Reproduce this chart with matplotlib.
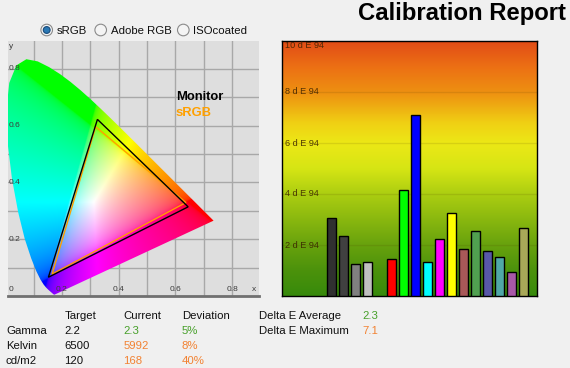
"""
Calibration report: CIE 1931 gamut plot, delta E bar chart and summary table.
Output: out.png (570x368 px)
"""
import numpy as np
import matplotlib
matplotlib.use("Agg")
import matplotlib.pyplot as plt
from matplotlib.patches import Polygon, Circle
from matplotlib.colors import LinearSegmentedColormap
import matplotlib.transforms as mtransforms

# CIE 1931 2 deg spectral locus, 380-700 nm
locus_x = [0.1741, 0.1738, 0.1733, 0.1726, 0.1714, 0.1703, 0.1689, 0.1669, 0.1644, 0.1611,
           0.1566, 0.1510, 0.1440, 0.1355, 0.1241, 0.1096, 0.0913, 0.0687, 0.0454, 0.0235,
           0.0082, 0.0039, 0.0139, 0.0389, 0.0743, 0.1142, 0.1547, 0.1929, 0.2296, 0.2658,
           0.3016, 0.3373, 0.3731, 0.4087, 0.4441, 0.4788, 0.5125, 0.5448, 0.5752, 0.6029,
           0.6270, 0.6482, 0.6658, 0.6801, 0.6915, 0.7006, 0.7079, 0.7140, 0.7190, 0.7230,
           0.7260, 0.7300, 0.7334, 0.7347]
locus_y = [0.0050, 0.0049, 0.0048, 0.0048, 0.0051, 0.0058, 0.0069, 0.0086, 0.0109, 0.0138,
           0.0177, 0.0227, 0.0297, 0.0399, 0.0578, 0.0868, 0.1327, 0.2007, 0.2950, 0.4127,
           0.5384, 0.6548, 0.7502, 0.8120, 0.8338, 0.8262, 0.8059, 0.7816, 0.7543, 0.7243,
           0.6923, 0.6589, 0.6245, 0.5896, 0.5547, 0.5202, 0.4866, 0.4544, 0.4242, 0.3965,
           0.3725, 0.3514, 0.3340, 0.3197, 0.3083, 0.2993, 0.2920, 0.2859, 0.2809, 0.2770,
           0.2740, 0.2700, 0.2666, 0.2653]

# gamut triangles (R, G, B primaries) as drawn
monitor_x = [0.645, 0.325, 0.152]
monitor_y = [0.314, 0.622, 0.066]
srgb_x = [0.637, 0.319, 0.165]
srgb_y = [0.329, 0.596, 0.077]

chroma_ticks = [0.2, 0.4, 0.6, 0.8]

# delta E per patch
patch_names = ["Gray 80", "Gray 75", "Gray 50", "Gray 25",
               "Red", "Green", "Blue", "Cyan", "Magenta", "Yellow",
               "Dark red", "Dark green", "Dark blue", "Dark cyan", "Dark magenta", "Dark yellow"]
delta_e = [3.05, 2.34, 1.24, 1.32, 1.44, 4.15, 7.1, 1.32, 2.23, 3.25,
           1.83, 2.54, 1.75, 1.52, 0.93, 2.66]
de_ticks = [2, 4, 6, 8, 10]

# summary table
table_cols = ["Target", "Current", "Deviation"]
table_rows = ["Gamma", "Kelvin", "cd/m2"]
target_vals = ["2.2", "6500", "120"]
current_vals = ["2.3", "5992", "168"]
deviation_vals = ["5%", "8%", "40%"]
row_ok = [True, False, False]
de_labels = ["Delta E Average", "Delta E Maximum"]
de_vals = ["2.3", "7.1"]
de_ok = [True, False]

radio_labels = ["sRGB", "Adobe RGB", "ISOcoated"]

PATCH_COLORS = ["#303030", "#404040", "#808080", "#c0c0c0",
                "#ff0000", "#00ff00", "#0000ff", "#00ffff", "#ff00ff", "#ffff00",
                "#a85858", "#50a050", "#5858a8", "#50a8a8", "#a858a8", "#a8a858"]
GREEN = "#47a02a"
ORANGE = "#f28232"
W, H = 570, 368


def px_rect(x0, y0, x1, y1):
    return [x0 / W, 1 - y1 / H, (x1 - x0) / W, (y1 - y0) / H]


def main() -> None:
    plt.rcParams["font.family"] = ["Liberation Sans", "DejaVu Sans"]
    fig = plt.figure(figsize=(W / 100, H / 100), dpi=100, facecolor="#f0f0f0")

    # --- CIE xy chromaticity diagram ---
    ax = fig.add_axes(px_rect(8, 41, 259, 296))
    xlim, ylim = (0.0095, 0.895), (0.0, 0.898)
    ax.set_xlim(*xlim)
    ax.set_ylim(*ylim)
    ax.set_facecolor("#dedede")

    gx = np.linspace(xlim[0], xlim[1], 500)
    gy = np.linspace(0.002, ylim[1], 500)
    X, Y = np.meshgrid(gx, gy)
    cX, cZ = X / Y, (1 - X - Y) / Y
    rgb = np.stack([
        3.2406 * cX - 1.5372 - 0.4986 * cZ,
        -0.9689 * cX + 1.8758 + 0.0415 * cZ,
        0.0557 * cX - 0.2040 + 1.0570 * cZ,
    ], axis=-1)
    rgb = np.clip(rgb, 0, None)
    rgb /= rgb.max(axis=-1, keepdims=True)
    rgb = np.clip(rgb ** (1 / 3.0), 0, 1)
    im = ax.imshow(rgb, extent=[xlim[0], xlim[1], gy[0], gy[-1]], origin="lower",
                   aspect="auto", zorder=1, interpolation="bilinear")
    locus = Polygon(np.column_stack([locus_x, locus_y]), closed=True,
                    facecolor="none", edgecolor="none")
    ax.add_patch(locus)
    im.set_clip_path(locus)

    ax.add_patch(Polygon(np.column_stack([srgb_x, srgb_y]), closed=True, fill=False,
                         edgecolor="#ffa000", lw=1, zorder=3))
    ax.add_patch(Polygon(np.column_stack([monitor_x, monitor_y]), closed=True, fill=False,
                         edgecolor="black", lw=1, zorder=4))

    ax.set_xticks(np.arange(0.1, 0.85, 0.1))
    ax.set_yticks(np.arange(0.1, 0.85, 0.1))
    ax.grid(True, color="#a8a8a8", lw=1, zorder=0)
    ax.set_axisbelow(True)
    ax.tick_params(length=0, labelbottom=False, labelleft=False)
    for s in ["top", "left", "right"]:
        ax.spines[s].set_visible(False)
    ax.spines["bottom"].set_color("#707070")
    ax.spines["bottom"].set_linewidth(2)

    tick_kw = dict(fontsize=6, color="#3c3c3c", zorder=5)
    tx = mtransforms.blended_transform_factory(ax.transData, ax.transAxes)
    ty = mtransforms.blended_transform_factory(ax.transAxes, ax.transData)
    for t in chroma_ticks:
        ax.text(t, 0.025, f"{t:.1f}", transform=tx, ha="center", va="center", **tick_kw)
        ax.text(0.003, t, f"{t:.1f}", transform=ty, ha="left", va="center", **tick_kw)
    ax.text(0.003, 0.025, "0", transform=ax.transAxes, ha="left", va="center", **tick_kw)
    ax.text(0.99, 0.025, "x", transform=ax.transAxes, ha="right", va="center", **tick_kw)
    ax.text(0.003, 0.98, "y", transform=ax.transAxes, ha="left", va="center", **tick_kw)

    ax.text(0.601, 0.70, "Monitor", fontsize=9.4, fontweight="bold", color="black",
            va="center", zorder=5)
    ax.text(0.601, 0.643, "sRGB", fontsize=9.4, fontweight="bold", color="#ffa000",
            va="center", zorder=5)

    # --- delta E bar chart ---
    bx = fig.add_axes(px_rect(282, 41, 537, 296))
    bxlim = (-4.14, 17.11)
    stops = [(0, "#378a0b"), (1, "#4c920c"), (2, "#68a20d"), (3, "#8ab80f"),
             (4, "#acce11"), (5, "#d6e514"), (6, "#ece816"), (6.8, "#f0d014"),
             (7.5, "#eeaa12"), (8, "#ee9011"), (9, "#ec7014"), (10, "#e24c16")]
    cmap = LinearSegmentedColormap.from_list("de94", [(v / 10, c) for v, c in stops])
    bx.imshow(np.linspace(0, 1, 256).reshape(-1, 1), cmap=cmap, origin="lower",
              extent=[bxlim[0], bxlim[1], 0, 10], aspect="auto", zorder=0)
    xs = [i if i < 4 else i + 1 for i in range(len(delta_e))]
    bx.bar(xs, delta_e, width=0.78, color=PATCH_COLORS, edgecolor="black", lw=1, zorder=3)
    bx.set_xlim(*bxlim)
    bx.set_ylim(0, 10)
    bx.set_yticks(de_ticks[:-1])
    bx.yaxis.grid(True, color="#4a3a00", alpha=0.13, lw=1)
    bx.tick_params(length=0, labelbottom=False, labelleft=False)
    for s in bx.spines.values():
        s.set_linewidth(1)
        s.set_color("black")
    tb = mtransforms.blended_transform_factory(bx.transAxes, bx.transData)
    for v in de_ticks:
        y = v - 0.17 if v == 10 else v
        bx.text(0.012, y, f"{v} d E 94", transform=tb, fontsize=6.6,
                color=(0.22, 0.12, 0, 0.85), va="center", zorder=4)

    # --- header, radio buttons, table (pixel coordinates) ---
    ov = fig.add_axes([0, 0, 1, 1])
    ov.set_xlim(0, W)
    ov.set_ylim(H, 0)
    ov.axis("off")

    ov.text(566, 20, "Calibration Report", ha="right", va="baseline",
            fontsize=17.2, fontweight="bold", color="black")

    radio_x = [46.7, 100.7, 183.3]
    for i, (rx, lab) in enumerate(zip(radio_x, radio_labels)):
        ov.add_patch(Circle((rx, 30), 5.8, facecolor="#f4f4f4", edgecolor="#8a8a8a", lw=0.8))
        if i == 0:
            ov.add_patch(Circle((rx, 30), 3.4, facecolor="#2a78b4", edgecolor="#184a7a", lw=0.8))
        ov.text(rx + 10, 34, lab, fontsize=8.2, va="baseline", color="#101010")

    txt = dict(fontsize=8.2, va="baseline", color="#101010")
    col_x = [64.3, 123.3, 181.7]
    base = [319.3, 334.3, 349.0, 364.0]
    for cx, c in zip(col_x, table_cols):
        ov.text(cx, base[0], c, **txt)
    for i, name in enumerate(table_rows):
        y = base[i + 1]
        col = GREEN if row_ok[i] else ORANGE
        ov.text(6, y, name, **txt)
        ov.text(col_x[0], y, target_vals[i], **txt)
        ov.text(col_x[1], y, current_vals[i], fontsize=8.2, va="baseline", color=col)
        ov.text(col_x[2], y, deviation_vals[i], fontsize=8.2, va="baseline", color=col)
    for i, (lab, val) in enumerate(zip(de_labels, de_vals)):
        ov.text(259, base[i], lab, **txt)
        ov.text(362.3, base[i], val, fontsize=8.2, va="baseline",
                color=GREEN if de_ok[i] else ORANGE)

    fig.savefig("out.png", dpi=100, facecolor=fig.get_facecolor())
    plt.close(fig)


if __name__ == "__main__":
    main()
